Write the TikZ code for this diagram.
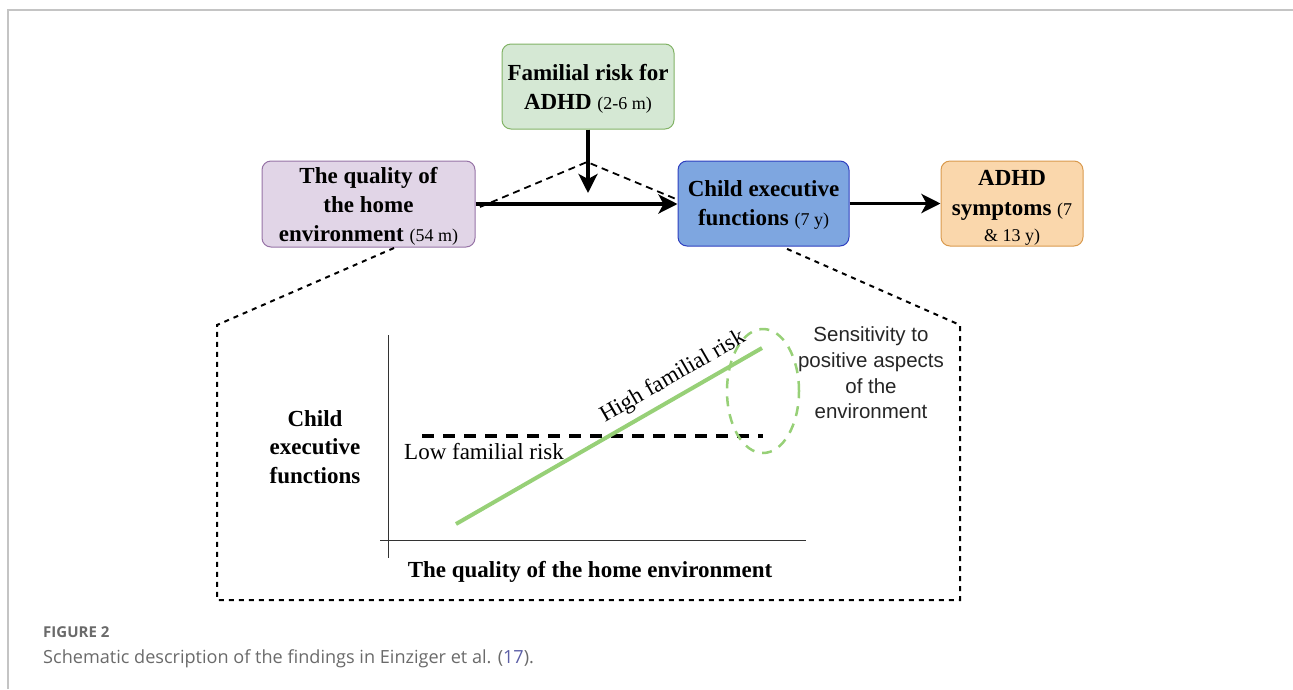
\documentclass[tikz,border=0pt]{standalone}
\usepackage{fontspec}
\setmainfont{Liberation Serif}
\newfontfamily\sensfont{Liberation Sans}
\newfontfamily\capfont{Open Sans}
\usetikzlibrary{arrows.meta,calc}
\definecolor{gfill}{HTML}{D5E8D4}\definecolor{gline}{HTML}{82B366}
\definecolor{pfill}{HTML}{E1D5E7}\definecolor{pline}{HTML}{9673A6}
\definecolor{bfill}{HTML}{7EA6E0}\definecolor{bline}{HTML}{2E3FBF}
\definecolor{ofill}{HTML}{FAD7AC}\definecolor{oline}{HTML}{D99A4E}
\definecolor{hgreen}{HTML}{97D077}
\definecolor{frame}{HTML}{C4C4C4}
\definecolor{captxt}{HTML}{6A6A6A}
\definecolor{caplink}{HTML}{5B5EA6}
\newcommand\parensm[1]{{\mdseries\fontsize{18}{22}\selectfont #1}}
\newcommand\tstrut[1]{\rule{0pt}{#1}}
\begin{document}
\begin{tikzpicture}[x=1pt,y=-1pt,
  box/.style={draw, rounded corners=9pt, line width=1pt, align=center, inner sep=0pt,
    font=\bfseries\fontsize{23}{28.8}\selectfont},
  arr/.style={line width=3.5pt, -{Stealth[length=19pt,width=19pt,inset=5pt]}},
  dashA/.style={line width=1.8pt, dash pattern=on 7pt off 5pt},
  dashB/.style={line width=2pt, dash pattern=on 5pt off 5pt},
  axis/.style={line width=1pt, draw=black!80},
  lbl/.style={font=\fontsize{23}{28.5}\selectfont, inner sep=0pt},
  blbl/.style={font=\bfseries\fontsize{23}{28.5}\selectfont, inner sep=0pt, align=center}
]
\useasboundingbox (0,0) rectangle (1293,689);
% page frame
\draw[frame, line width=1.5pt] (8,689) -- (8,10) -- (1293,10);

% boxes
\node[box, fill=gfill, draw=gline, minimum width=172pt, minimum height=85pt] (green) at (588,86.5)
  {\tstrut{20.6pt}Familial risk for\\ADHD \parensm{(2-6 m)}};
\node[box, fill=pfill, draw=pline, minimum width=213pt, minimum height=86pt] (purple) at (368.5,204)
  {\tstrut{20.6pt}The quality of\\the home\\environment \parensm{(54 m)}};
\node[box, fill=bfill, draw=bline, minimum width=171pt, minimum height=85pt] (blue) at (763.5,203.5)
  {\tstrut{19.6pt}Child executive\\functions \parensm{(7 y)}};
\node[box, fill=ofill, draw=oline, minimum width=142pt, minimum height=85pt] (orange) at (1012,203.5)
  {\tstrut{24pt}ADHD\\[1pt]symptoms \parensm{(7}\\[-2pt]\parensm{\& 13 y)}};

% arrows
\coordinate (vtip) at (588,193);
\draw[arr] (purple.east) -- (purple.east -| blue.west);
\draw[arr] (green.south) -- (vtip);
\draw[arr] (blue.east) -- (blue.east -| orange.west);

% dashed triangle over interaction
\coordinate (t1) at (480,207);
\coordinate (apex) at (587,162);
\coordinate (t2) at (676,199);
\draw[dashA] (t1) -- (apex) -- (t2);

% callout frame
\coordinate (c1) at (394,248);
\coordinate (c2) at (217,325);
\coordinate (c3) at (217,600);
\coordinate (c4) at (960,600);
\coordinate (c5) at (960,325);
\coordinate (c6) at (785,248);
\draw[dashB] (c1) -- (c2) -- (c3) -- (c4) -- (c5) -- (c6);

% graph axes
\coordinate (ytop) at (388,335);
\coordinate (ybot) at (388,558);
\coordinate (xl) at (380,540);
\coordinate (xr) at (806,540);
\draw[axis] (ytop) -- (ybot);
\draw[axis] (xl) -- (xr);

% low risk line
\coordinate (lo1) at (422,436);
\coordinate (lo2) at (763,436);
\draw[line width=4pt, dash pattern=on 12pt off 9pt] (lo1) -- (lo2);
% high risk line
\coordinate (hi1) at (456,524);
\coordinate (hi2) at (762,348);
\draw[hgreen, line width=4pt] (hi1) -- (hi2);
% ellipse
\coordinate (ec) at (763,391);
\draw[hgreen, line width=2.5pt, dash pattern=on 10pt off 8pt] (ec) ellipse [x radius=36pt, y radius=62pt];

% labels
\node[lbl, rotate=30] (hlab) at (673,377) {High familial risk};
\node[lbl, anchor=west] (llab) at (404,452) {Low familial risk};
\node[blbl] (ylab) at (315,447) {Child\\executive\\functions};
\node[blbl] (xlab) at (590,572) {The quality of the home environment};
\node[align=center, inner sep=0pt, text=black!85, font=\sensfont\fontsize{20.5}{25.7}\selectfont] (sens) at (871,373)
  {Sensitivity to\\positive aspects\\of the\\environment};

% caption
\node[anchor=base west, inner sep=0pt, text=captxt, font=\capfont\bfseries\fontsize{15}{17}\selectfont] (figno) at (43,637) {FIGURE 2};
\node[anchor=base west, inner sep=0pt, text=captxt, font=\capfont\fontsize{18.1}{21}\selectfont] (cap) at (43,663)
  {Schematic description of the findings in Einziger et al. (\textcolor{caplink}{17}).};
\end{tikzpicture}
\end{document}
